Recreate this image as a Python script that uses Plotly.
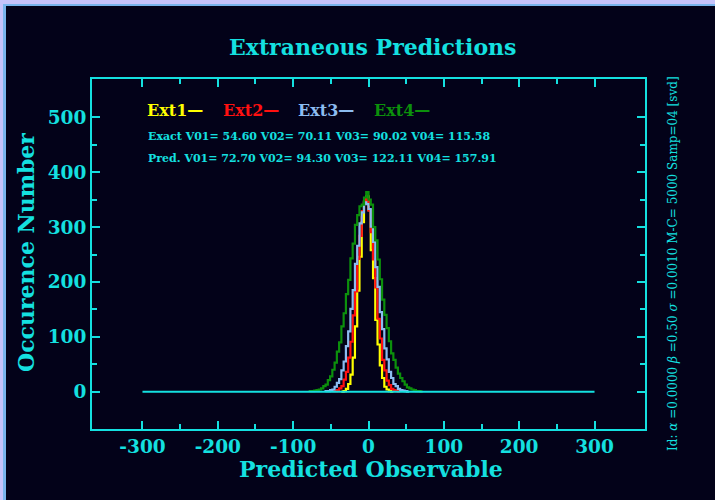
import plotly.graph_objects as go

# ---- data -----------------------------------------------------------------
BIN_WIDTH = 3

EXT1_START = -36
EXT1_COUNTS = [0, 1, 5, 14, 31, 62, 119, 184, 246, 309, 347, 356, 331, 258,
               207, 131, 86, 48, 25, 9, 4, 1, 0]

EXT2_START = -48
EXT2_COUNTS = [1, 1, 3, 6, 10, 22, 36, 62, 91, 139, 183, 242, 284, 329, 344,
               351, 330, 291, 241, 190, 133, 97, 58, 39, 20, 12, 5, 3, 1, 0]

EXT3_START = -57
EXT3_COUNTS = [1, 1, 3, 4, 9, 16, 23, 39, 55, 83, 110, 151, 185, 233, 266,
               307, 327, 345, 342, 333, 301, 273, 227, 191, 145, 114, 79, 59,
               36, 25, 14, 10, 5, 3, 2, 1, 0]

EXT4_START = -78
EXT4_COUNTS = [1, 1, 2, 3, 4, 6, 10, 13, 21, 28, 40, 53, 73, 90, 119, 143,
               178, 204, 243, 270, 304, 322, 338, 341, 354, 364, 350, 341,
               300, 276, 241, 205, 168, 140, 116, 92, 70, 58, 44, 33, 25, 19,
               13, 8, 6, 4, 3, 1, 1, 0]

SERIES_NAMES = ["Ext1", "Ext2", "Ext3", "Ext4"]
SERIES_COLORS = ["#ffff00", "#ff1010", "#8cbcf0", "#0c900c"]

BASELINE_X = [-300, 300]
BASELINE_Y = [0, 0]

X_MAJOR = [-300, -200, -100, 0, 100, 200, 300]
X_LABELS = ["-300", "-200", "-100", "0", "100", "200", "300"]
X_MINOR = [-250, -150, -50, 50, 150, 250]
Y_MAJOR = [0, 100, 200, 300, 400, 500]
Y_LABELS = ["0", "100", "200", "300", "400", "500"]
Y_MINOR = [50, 150, 250, 350, 450]

EXACT_TEXT = "Exact V01= 54.60 V02= 70.11 V03= 90.02 V04= 115.58"
PRED_TEXT = "Pred. V01= 72.70 V02= 94.30 V03= 122.11 V04= 157.91"
SIDE_TEXT = ("Id: <i>α</i> =0.0000 <i>β</i> =0.50 <i>σ</i> =0.0010 "
             "M-C= 5000 Samp=04 [svd]")

# ---- styling --------------------------------------------------------------
BG = "#030219"
CYAN = "#14e0e0"
LAVENDER = "#c6c3fa"
EDGE_BLUE = "#78b4ec"
FONT = "DejaVu Serif"

W, H = 715, 500
ML, MR, MT, MB = 92, 70, 79, 71


def fx(px):
    return (px - ML) / (W - ML - MR)


def fy(py):
    return (H - MB - py) / (H - MT - MB)


def step_xy(start, counts):
    edges = [start + BIN_WIDTH * i for i in range(len(counts) + 1)]
    return [edges[0]] + edges, [0] + list(counts) + [0]


fig = go.Figure()

for start, counts, name, color in zip(
        [EXT1_START, EXT2_START, EXT3_START, EXT4_START],
        [EXT1_COUNTS, EXT2_COUNTS, EXT3_COUNTS, EXT4_COUNTS],
        SERIES_NAMES, SERIES_COLORS):
    xs, ys = step_xy(start, counts)
    fig.add_trace(go.Scatter(x=xs, y=ys, mode="lines", name=name,
                             line=dict(color=color, width=2.2, shape="hv"),
                             hoverinfo="skip"))

fig.add_trace(go.Scatter(x=BASELINE_X, y=BASELINE_Y, mode="lines",
                         line=dict(color=CYAN, width=2), hoverinfo="skip"))

axis_common = dict(
    showline=True, linecolor=CYAN, linewidth=2, mirror="allticks",
    ticks="inside", ticklen=8, tickwidth=2, tickcolor=CYAN,
    showgrid=False, zeroline=False,
    tickfont=dict(family=FONT, size=18.5, color=CYAN, weight="bold"),
)

fig.update_layout(
    width=W, height=H,
    margin=dict(l=ML, r=MR, t=MT, b=MB, pad=0),
    paper_bgcolor=BG, plot_bgcolor=BG,
    showlegend=False,
    xaxis=dict(range=[-367, 367], tickvals=X_MAJOR, ticktext=X_LABELS,
               minor=dict(tickvals=X_MINOR, ticks="inside", ticklen=5,
                          tickwidth=2, tickcolor=CYAN, showgrid=False),
               **axis_common),
    yaxis=dict(range=[-68, 570], tickvals=Y_MAJOR, ticktext=Y_LABELS,
               minor=dict(tickvals=Y_MINOR, ticks="inside", ticklen=5,
                          tickwidth=2, tickcolor=CYAN, showgrid=False),
               **axis_common),
)

# page frame along the top and left edges
frame = [
    (0, 0, W, 4, LAVENDER),
    (0, 0, 3, H, LAVENDER),
    (3, 4, W, 6, EDGE_BLUE),
    (3, 4, 6, H, EDGE_BLUE),
]
for x0, y0, x1, y1, col in frame:
    fig.add_shape(type="rect", xref="paper", yref="paper",
                  x0=fx(x0), x1=fx(x1), y0=fy(y0), y1=fy(y1),
                  fillcolor=col, line=dict(width=0), layer="below")


def label(text, x, y, size, color=CYAN, bold=True, angle=0,
          xanchor="center", xref="paper", yref="paper"):
    fig.add_annotation(text=text, x=x, y=y, xref=xref, yref=yref,
                       xanchor=xanchor, yanchor="middle", showarrow=False,
                       textangle=angle,
                       font=dict(family=FONT, size=size, color=color,
                                 weight="bold" if bold else "normal"))


label("Extraneous Predictions", fx(372), fy(47), 22)
label("Predicted Observable", fx(371), fy(469), 22)
label("Occurence Number", fx(26), fy(253), 22, angle=-90)

# legend-like labels in data coordinates
for i, (name, color) in enumerate(zip(SERIES_NAMES, SERIES_COLORS)):
    label(name + "—", X_MAJOR[0] + 4 + 100 * i, 512, 16, color=color,
          xanchor="left", xref="x", yref="y")

label(EXACT_TEXT, fx(146), fy(136), 11, xanchor="left")
label(PRED_TEXT, fx(146), fy(158), 11, xanchor="left")
label(SIDE_TEXT, fx(673), fy(264), 12, bold=False, angle=-90)

fig.write_html("out.html")
